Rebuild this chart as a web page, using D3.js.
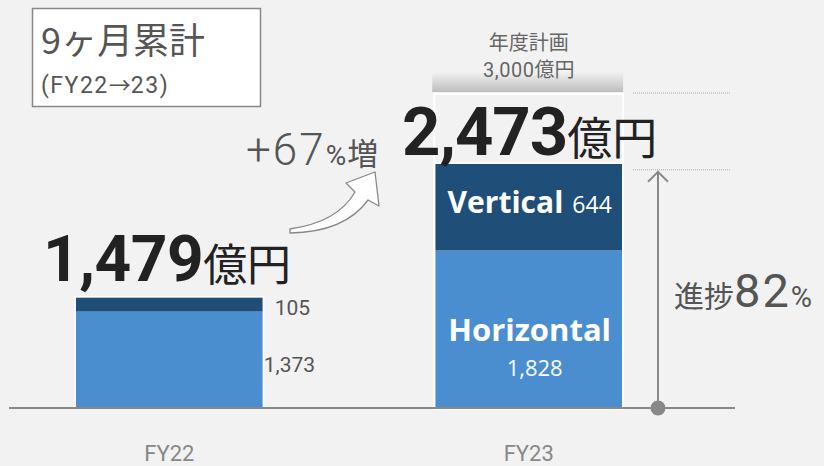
<!DOCTYPE html>
<html>
<head>
<meta charset="utf-8">
<script src="https://cdn.jsdelivr.net/npm/d3@7"></script>
<style>
  body { margin: 0; background: #f2f2f2; }
  svg { display: block; }
</style>
</head>
<body>
<svg width="824" height="466"></svg>
<script>
// data
const categories = ['FY22', 'FY23'];
const horizontal = [1373, 1828];
const vertical = [105, 644];
const totals = [1479, 2473];
const plan = 3000;
const growth = 67;
const progress = 82;

const JP = '"Noto Sans CJK JP", sans-serif';
const NUM = 'Roboto, "Noto Sans", sans-serif';
const LAT = '"Open Sans", "Noto Sans", sans-serif';

const svg = d3.select('svg');
const width = +svg.attr('width');
const height = +svg.attr('height');

svg.append('rect').attr('width', width).attr('height', height).attr('fill', '#f2f2f2');

const rows = categories.map((c, i) => ({ cat: c, horizontal: horizontal[i], vertical: vertical[i] }));
const stack = d3.stack().keys(['horizontal', 'vertical'])(rows);

const xScale = d3.scaleBand()
  .domain(categories)
  .range([4, 694])
  .paddingInner(0.48)
  .paddingOuter(0.2);

// truncated value axis, as in the original slide
const yScale = d3.scaleLinear()
  .domain([655, 3000])
  .range([408, 93])
  .clamp(true);

const colors = { horizontal: '#4a8ecf', vertical: '#1f4e79' };
const bw = xScale.bandwidth();
const fy23 = xScale('FY23');
const fy22 = xScale('FY22');

// plan header + outline
const defs = svg.append('defs');
const grad = defs.append('linearGradient').attr('id', 'planGrad')
  .attr('x1', 0).attr('y1', 0).attr('x2', 0).attr('y2', 1);
grad.append('stop').attr('offset', '0%').attr('stop-color', '#f2f2f2');
grad.append('stop').attr('offset', '100%').attr('stop-color', '#bdbdbd');

svg.append('rect')
  .attr('x', fy23 - 3).attr('y', yScale(plan) - 21)
  .attr('width', bw + 4).attr('height', 20)
  .attr('fill', 'url(#planGrad)');

svg.append('rect')
  .attr('x', fy23 - 1).attr('y', yScale(plan) + 1)
  .attr('width', bw + 2).attr('height', yScale(0) - yScale(plan))
  .attr('fill', 'none').attr('stroke', '#fff').attr('stroke-width', 2);

svg.append('text')
  .attr('x', fy23 + bw / 2).attr('y', 50)
  .attr('text-anchor', 'middle')
  .style('font-family', JP).style('font-size', '20px').attr('fill', '#666')
  .text('年度計画');
svg.append('text')
  .attr('x', fy23 + bw / 2).attr('y', 77)
  .attr('text-anchor', 'middle')
  .attr('fill', '#666')
  .call(t => {
    t.append('tspan').style('font-family', NUM).style('font-size', '20px').attr('letter-spacing', '0.5').text(d3.format(',')(plan));
    t.append('tspan').style('font-family', JP).style('font-size', '20px').text('億円');
  });

// bars
svg.append('g').selectAll('g').data(stack).enter().append('g')
  .attr('fill', d => colors[d.key])
  .selectAll('rect').data(d => d).enter().append('rect')
    .attr('x', d => xScale(d.data.cat))
    .attr('y', d => yScale(d[1]))
    .attr('width', bw)
    .attr('height', d => yScale(d[0]) - yScale(d[1]));

svg.append('g').selectAll('rect').data(rows).enter().append('rect')
  .attr('x', d => xScale(d.cat) - 0.75)
  .attr('y', d => yScale(d.horizontal + d.vertical) - 0.75)
  .attr('width', bw + 1.5)
  .attr('height', d => yScale(0) - yScale(d.horizontal + d.vertical) + 0.75)
  .attr('fill', 'none').attr('stroke', '#fff').attr('stroke-width', 1.5);

// axis
const axis = svg.append('g')
  .attr('transform', `translate(0, ${yScale(0)})`)
  .call(d3.axisBottom(xScale).tickSize(0));
axis.select('.domain').remove();
axis.selectAll('text')
  .attr('dy', null).attr('y', 53)
  .style('font-family', NUM).style('font-size', '22px').attr('fill', '#888');

svg.append('line')
  .attr('x1', 9).attr('x2', 735)
  .attr('y1', yScale(0)).attr('y2', yScale(0))
  .attr('stroke', '#888').attr('stroke-width', 2);

// FY22 labels
const y22top = yScale(totals[0]);
const y22mid = yScale(horizontal[0]);
svg.append('text')
  .attr('x', fy22 + bw + 12).attr('y', (y22top + y22mid) / 2 + 11)
  .style('font-family', NUM).style('font-size', '21px').attr('fill', '#555')
  .text(d3.format(',')(vertical[0]));
svg.append('text')
  .attr('x', fy22 + bw + 1).attr('y', (y22mid + yScale(0)) / 2 + 12)
  .style('font-family', NUM).style('font-size', '21px').attr('fill', '#555')
  .text(d3.format(',')(horizontal[0]));

svg.append('text')
  .attr('x', 43).attr('y', y22top - 16)
  .attr('fill', '#222')
  .call(t => {
    t.append('tspan').style('font-family', NUM).style('font-size', '64px').style('font-weight', 700)
      .attr('letter-spacing', '-0.5').text(d3.format(',')(totals[0]));
    t.append('tspan').style('font-family', JP).style('font-size', '44px').text('億円');
  });

// FY23 labels
const y23top = yScale(totals[1]);
const y23mid = yScale(horizontal[1]);
svg.append('text')
  .attr('x', fy23 + bw / 2 + 1).attr('y', (y23mid + y23top) / 2 + 6)
  .attr('text-anchor', 'middle').attr('fill', '#fff')
  .call(t => {
    t.append('tspan').style('font-family', LAT).style('font-size', '30px').style('font-weight', 700).text('Vertical');
    t.append('tspan').attr('dx', 9).style('font-family', LAT).style('font-size', '23px').text(vertical[1]);
  });
svg.append('text')
  .attr('x', fy23 + bw / 2 + 1).attr('y', (y23mid + yScale(0)) / 2 + 12)
  .attr('text-anchor', 'middle').attr('fill', '#fff')
  .style('font-family', LAT).style('font-size', '31px').style('font-weight', 700)
  .text('Horizontal');
svg.append('text')
  .attr('x', fy23 + bw / 2 + 6).attr('y', (y23mid + yScale(0)) / 2 + 47)
  .attr('text-anchor', 'middle').attr('fill', '#fff')
  .style('font-family', LAT).style('font-size', '22px')
  .text(d3.format(',')(horizontal[1]));

svg.append('text')
  .attr('x', 402).attr('y', y23top - 9)
  .attr('fill', '#222')
  .call(t => {
    t.append('tspan').style('font-family', NUM).style('font-size', '67px').style('font-weight', 700)
      .attr('letter-spacing', '-1').text(d3.format(',')(totals[1]));
    t.append('tspan').style('font-family', JP).style('font-size', '45px').text('億円');
  });

// growth arrow + label
svg.append('path')
  .attr('d', 'M290,229 Q338,222 355,192 L346,183 L375,172 L379,206 L368,200 Q345,232 290,233 Z')
  .attr('fill', '#fff').attr('stroke', '#888').attr('stroke-width', 1.3).attr('stroke-linejoin', 'round');

svg.append('text')
  .attr('x', 246).attr('y', 165)
  .attr('fill', '#555')
  .call(t => {
    t.append('tspan').style('font-family', NUM).style('font-size', '44px').style('font-weight', 300)
      .attr('letter-spacing', '2').text('+' + growth);
    t.append('tspan').style('font-family', NUM).style('font-size', '28px').attr('letter-spacing', '1').text('%');
    t.append('tspan').style('font-family', JP).style('font-size', '31px').text('増');
  });

// progress guides
const gx = 658;
[yScale(plan), y23top + 6].forEach(yv => {
  svg.append('line')
    .attr('x1', 633).attr('x2', 730).attr('y1', yv).attr('y2', yv)
    .attr('stroke', '#aaa').attr('stroke-width', 1).attr('stroke-dasharray', '1,1');
});
svg.append('line')
  .attr('x1', gx).attr('x2', gx).attr('y1', yScale(0)).attr('y2', y23top + 8)
  .attr('stroke', '#888').attr('stroke-width', 2);
svg.append('path')
  .attr('d', `M${gx - 10},${y23top + 18} L${gx},${y23top + 8} L${gx + 10},${y23top + 18}`)
  .attr('fill', 'none').attr('stroke', '#888').attr('stroke-width', 2);
svg.append('circle')
  .attr('cx', gx).attr('cy', yScale(0)).attr('r', 7.5).attr('fill', '#888');

svg.append('text')
  .attr('x', 674).attr('y', 307)
  .attr('fill', '#555')
  .call(t => {
    t.append('tspan').style('font-family', JP).style('font-size', '30px').text('進捗');
    t.append('tspan').style('font-family', NUM).style('font-size', '47px').attr('letter-spacing', '2').text(progress);
    t.append('tspan').style('font-family', NUM).style('font-size', '29px').text('%');
  });

// title box
svg.append('rect')
  .attr('x', 32.5).attr('y', 8.5).attr('width', 228).attr('height', 98)
  .attr('fill', '#fff').attr('stroke', '#888').attr('stroke-width', 1.5);
svg.append('text')
  .attr('x', 41).attr('y', 54)
  .style('font-family', JP).style('font-size', '36px').attr('fill', '#555')
  .text('9ヶ月累計');
svg.append('text')
  .attr('x', 41).attr('y', 93)
  .attr('fill', '#555')
  .call(t => {
    t.append('tspan').style('font-family', NUM).style('font-size', '23px').attr('letter-spacing', '1.5').text('(FY22');
    t.append('tspan').style('font-family', JP).style('font-size', '22px').text('→');
    t.append('tspan').style('font-family', NUM).style('font-size', '23px').attr('letter-spacing', '1.5').text('23)');
  });
</script>
</body>
</html>
